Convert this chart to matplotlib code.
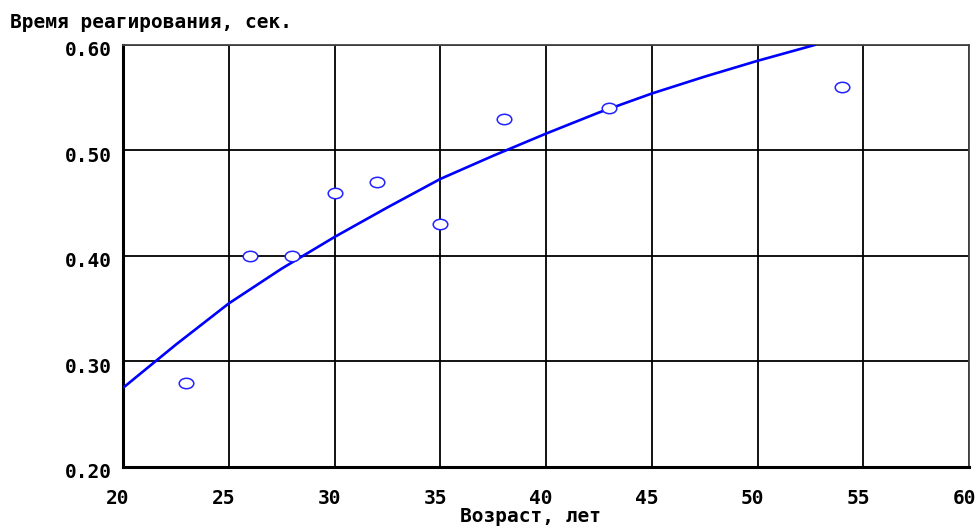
import matplotlib
matplotlib.use("Agg")
import matplotlib.pyplot as plt
from matplotlib.path import Path
from matplotlib.transforms import Affine2D, ScaledTranslation

# Observed data points
age = [23, 26, 28, 30, 32, 35, 38, 43, 54]
reaction = [0.28, 0.40, 0.40, 0.46, 0.47, 0.43, 0.53, 0.54, 0.56]

# Fitted curve
curve_x = [20, 22.5, 25, 27.5, 30, 32.5, 35, 37.5, 40, 42.5, 45, 47.5, 50, 52.7]
curve_y = [0.275, 0.316, 0.355, 0.388, 0.418, 0.446, 0.473, 0.495, 0.516,
           0.536, 0.554, 0.570, 0.585, 0.600]

x_ticks = [20, 25, 30, 35, 40, 45, 50, 55, 60]
y_ticks = [0.20, 0.30, 0.40, 0.50, 0.60]
y_tick_labels = ["0.20", "0.30", "0.40", "0.50", "0.60"]

title_text = "Время реагирования, сек."
xlabel_text = "Возраст, лет"

font = dict(family=["DejaVu Sans Mono"], fontweight="bold", fontsize=14)

fig = plt.figure(figsize=(9.78, 5.27), dpi=100)
fig.patch.set_facecolor("white")
ax = fig.add_axes([123/978, 1 - 467/527, (969 - 123)/978, (467 - 45)/527])

ax.set_xlim(20, 60)
ax.set_ylim(0.20, 0.60)
ax.set_xticks(x_ticks)
ax.set_yticks(y_ticks)
ax.set_xticklabels([str(t) for t in x_ticks], **font)
ax.set_yticklabels(y_tick_labels, **font)
ax.tick_params(length=0, pad=8)
ax.tick_params(axis="x", pad=16)
ax.grid(True, color="black", linewidth=1.3)
ax.set_axisbelow(True)

for lbl in ax.get_xticklabels():
    lbl.set_transform(lbl.get_transform() + ScaledTranslation(-5/100, 0, fig.dpi_scale_trans))
for lbl in ax.get_yticklabels():
    lbl.set_transform(lbl.get_transform() + ScaledTranslation(0, -4/100, fig.dpi_scale_trans))

for side in ["left", "bottom"]:
    ax.spines[side].set_linewidth(2.2)
    ax.spines[side].set_color("black")
for side in ["top", "right"]:
    ax.spines[side].set_linewidth(1.3)
    ax.spines[side].set_color("#444444")

ax.plot(curve_x, curve_y, color="#0000ff", linewidth=1.9, clip_on=True, zorder=3)

ellipse = Path.unit_circle().transformed(Affine2D().scale(1.4, 1.0))
ax.plot(age, reaction, linestyle="none", marker=ellipse, markersize=10.5,
        markerfacecolor="white", markeredgecolor="#2222ff", markeredgewidth=1.1,
        zorder=4, clip_on=False)

fig.text(10/978, 1 - 22/527, title_text, ha="left", va="center", **font)
fig.text(531/978, 1 - 516/527, xlabel_text, ha="center", va="center", **font)

fig.savefig("out.png", dpi=100)
